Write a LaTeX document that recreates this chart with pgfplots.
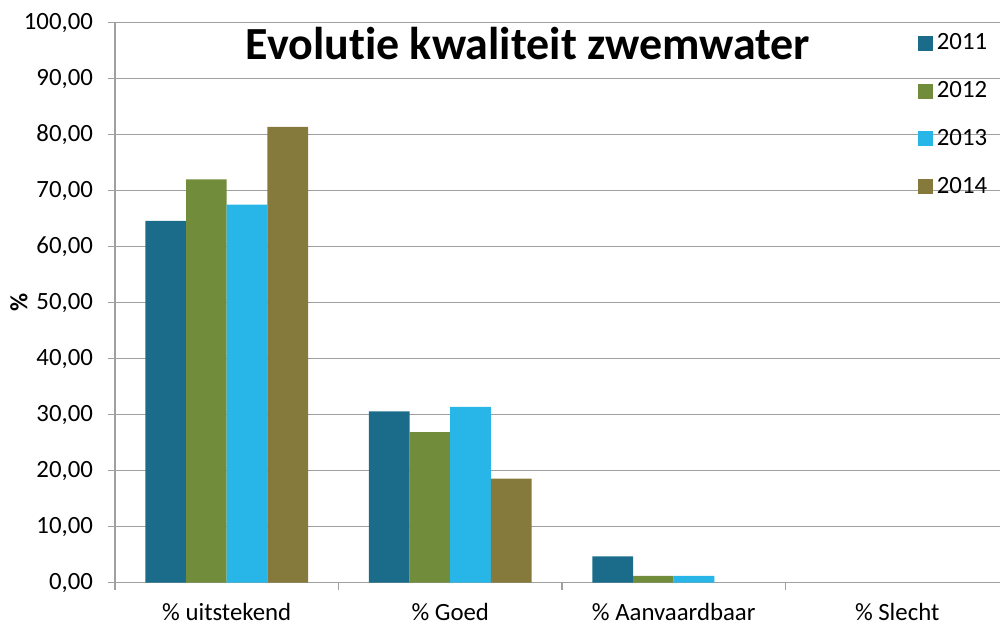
\documentclass[border=0pt]{standalone}
\usepackage{fontspec}
\setmainfont{Carlito}[Ligatures=CommonOff]
\usepackage{pgfplots}
\pgfplotsset{compat=1.18}
\definecolor{c11}{RGB}{27,108,138}
\definecolor{c12}{RGB}{113,140,59}
\definecolor{c13}{RGB}{40,182,233}
\definecolor{c14}{RGB}{133,122,60}
\definecolor{gridc}{RGB}{160,160,160}
\begin{document}
\begin{tikzpicture}
\clip (-57.5pt,-21.65pt) rectangle (442.5pt,291.35pt);
\begin{axis}[
  scale only axis, width=442.5pt, height=280pt,
  xmin=-0.5, xmax=3.46, ymin=0, ymax=100,
  ybar=0pt, bar width=20.35pt,
  xtick={-0.5,0.5,1.5,2.5}, xticklabels={},
  extra x ticks={0,1,2,3},
  extra x tick labels={\% uitstekend, \% Goed, \% Aanvaardbaar, \% Slecht},
  extra x tick style={major tick length=0pt, grid=none, xticklabel style={yshift=-7pt}},
  ytick={0,10,...,100},
  ymajorgrids, grid style={gridc, line width=0.6pt},
  axis x line*=bottom, axis y line*=left,
  axis line style={gridc, line width=0.6pt, -},
  tick style={gridc, line width=0.6pt},
  tick align=outside, major tick length=3.5pt,
  /pgf/number format/.cd, fixed, fixed zerofill, precision=2, use comma, assume math mode=true,
  /pgfplots/.cd,
  tick label style={font=\fontsize{12.4}{15}\selectfont, black},
  yticklabel style={xshift=-4pt},
  ylabel={\textbf{\%}},
  ylabel style={at={(axis description cs:0,0.5)}, anchor=center, yshift=48pt, font=\fontsize{12.4}{15}\selectfont},
  legend style={draw=none, fill=none, at={(rel axis cs:0.9,0.995)}, anchor=north west,
    font=\fontsize{12.4}{15}\selectfont, row sep=10.3pt},
  legend cell align=left,
  legend image code/.code={\fill[#1] (0pt,-3.75pt) rectangle (7.5pt,3.75pt);},
]
\addplot[fill=c11, draw=none] coordinates {(0,64.6) (1,30.6) (2,4.7)};
\addplot[fill=c12, draw=none] coordinates {(0,72.0) (1,26.9) (2,1.2)};
\addplot[fill=c13, draw=none] coordinates {(0,67.5) (1,31.4) (2,1.2)};
\addplot[fill=c14, draw=none] coordinates {(0,81.4) (1,18.6)};
\legend{2011,2012,2013,2014}
\node[font=\fontsize{23}{27}\selectfont\bfseries] at (rel axis cs:0.4667,0.962) {Evolutie kwaliteit zwemwater};
\end{axis}
\end{tikzpicture}
\end{document}
